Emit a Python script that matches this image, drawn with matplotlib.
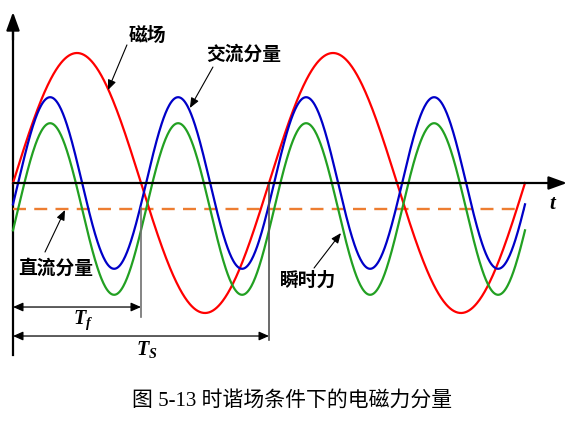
import numpy as np
import matplotlib
matplotlib.use("Agg")
import matplotlib.pyplot as plt

plt.rcParams['font.family'] = ['Noto Sans CJK SC', 'DejaVu Sans']
plt.rcParams['mathtext.fontset'] = 'custom'
plt.rcParams['mathtext.it'] = 'Liberation Serif:italic:bold'
plt.rcParams['mathtext.rm'] = 'Liberation Serif:bold'

# ── 波形パラメータ（図から読み取り、時間の単位 = 磁場の周期 Ts）──
wave_names = ["磁场", "交流分量", "瞬时力"]
wave_amp = [1.00, 0.66, 0.66]       # 振幅（磁场の振幅 = 1）
wave_freq = [1, 2, 2]               # 周波数（1/Ts 単位）
wave_lag = [0.0, 0.02, 0.02]        # 位相遅れ（Ts 単位）
wave_offset = [0.0, 0.0, -0.20]     # 直流オフセット
wave_colors = ["#FF0000", "#0000C8", "#22A022"]
dc_level = -0.20
t_end = 2.0

t = np.linspace(0, t_end, 800)

fig = plt.figure(figsize=(5.73, 4.21), dpi=100)
ax = fig.add_axes([0, 0, 1, 1])
ax.set_xlim(-13 / 256, 560 / 256)
ax.set_ylim((183 - 421) / 130, 183 / 130)
ax.set_axis_off()

# 座標軸
ax.plot([0, 0], [-1.323, 1.2], color="black", lw=1.6)
ax.annotate("", xy=(0, 1.315), xytext=(0, 1.1),
            arrowprops=dict(arrowstyle="-|>,head_length=0.55,head_width=0.2",
                            color="black", lw=1.6, mutation_scale=20,
                            shrinkA=0, shrinkB=0))
ax.annotate("", xy=(2.164, 0), xytext=(0, 0),
            arrowprops=dict(arrowstyle="-|>,head_length=0.55,head_width=0.2",
                            color="black", lw=1.6, mutation_scale=20,
                            shrinkA=0, shrinkB=0))
ax.text(2.109, -0.154, "$t$", fontsize=15, ha="center", va="center")

# 直流分量（破線）
ax.plot([0, t_end], [dc_level, dc_level], color="#ED7D31", lw=1.7,
        dashes=(5.5, 3.5))

# 波形
for amp, freq, lag, off, c in zip(wave_amp, wave_freq, wave_lag,
                                  wave_offset, wave_colors):
    y = off + amp * np.sin(2 * np.pi * freq * (t - lag))
    ax.plot(t, y, color=c, lw=1.6)

# 周期の寸法線
ax.plot([0.5, 0.5], [-0.192, -1.031], color="#707070", lw=1.2)
ax.plot([1.0, 1.0], [0.0, -1.208], color="#505050", lw=1.2)
dim = dict(arrowstyle="<|-|>,head_length=0.5,head_width=0.22",
           color="black", lw=0.9, mutation_scale=12, shrinkA=0, shrinkB=0)
ax.annotate("", xy=(0, -0.954), xytext=(0.5, -0.954), arrowprops=dim)
ax.annotate("", xy=(0, -1.177), xytext=(1.0, -1.177), arrowprops=dim)
ax.text(0.273, -1.054, "$T_f$", fontsize=14.5, ha="center", va="center")
ax.text(0.523, -1.277, "$T_S$", fontsize=14.5, ha="center", va="center")

# ラベルと矢印
labels = [
    ("磁场", (0.527, 1.131), (0.445, 1.062), (0.371, 0.715)),
    ("交流分量", (0.902, 0.992), (0.781, 0.892), (0.691, 0.577)),
    ("直流分量", (0.168, -0.654), (0.125, -0.531), (0.203, -0.208)),
    ("瞬时力", (1.152, -0.746), (1.176, -0.654), (1.281, -0.385)),
]
arr = dict(arrowstyle="-|>,head_length=0.6,head_width=0.25",
           color="black", lw=0.8, mutation_scale=10, shrinkA=0, shrinkB=0)
for txt, pos, start, tip in labels:
    ax.text(pos[0], pos[1], txt, fontsize=13.5, fontweight="bold",
            ha="center", va="center")
    ax.annotate("", xy=tip, xytext=start, arrowprops=arr)

fig.text(292 / 573, 1 - 401 / 421, "图 5-13 时谐场条件下的电磁力分量",
         family=["Liberation Serif", "Noto Sans CJK SC"], fontsize=15,
         ha="center", va="center")

fig.savefig("out.png", dpi=100)
